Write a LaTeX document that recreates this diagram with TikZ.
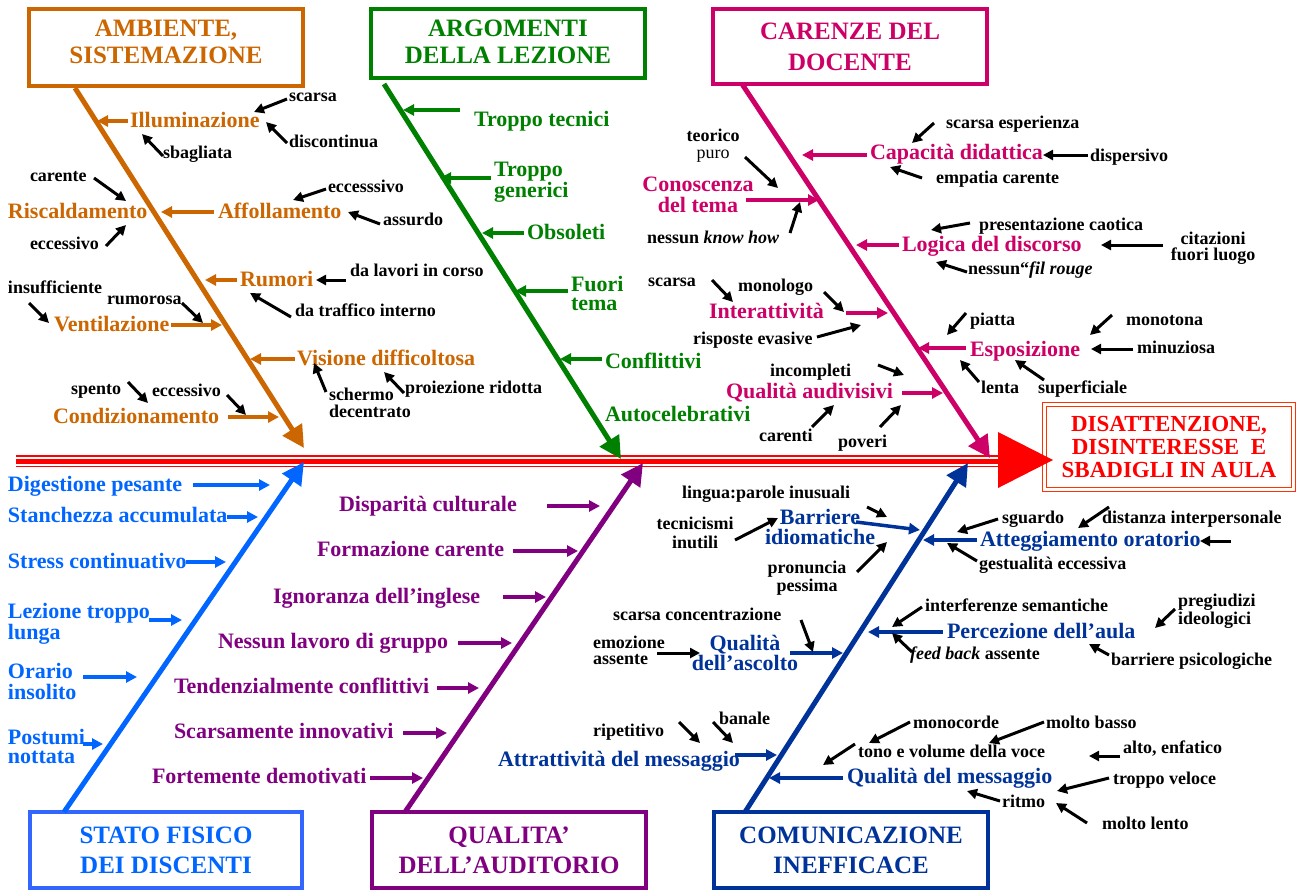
\documentclass[tikz,border=0pt]{standalone}
\usepackage{fontspec}
\setmainfont{Liberation Serif}
\usetikzlibrary{arrows.meta}

\definecolor{cOra}{RGB}{204,102,0}
\definecolor{cGrn}{RGB}{0,128,0}
\definecolor{cMag}{RGB}{204,0,102}
\definecolor{cBlu}{RGB}{0,102,255}
\definecolor{cBox}{RGB}{51,102,255}
\definecolor{cPur}{RGB}{128,0,128}
\definecolor{cNav}{RGB}{0,51,153}
\definecolor{cRed}{RGB}{255,0,0}
\definecolor{cRim}{RGB}{255,51,0}

\newcommand\fsz[2]{\fontsize{#1}{#2}\selectfont\bfseries}

\tikzset{
  every node/.style={inner sep=0pt, outer sep=0pt},
  lbl/.style={anchor=mid west, yshift=-4.5pt},
  cat/.style={font=\fsz{22}{20}},
  sml/.style={font=\fsz{18}{17}, text=black},
  ttl/.style={font=\fsz{25}{27}, align=center},
  catbox/.style={draw, line width=4pt, fill=white, minimum width=274pt},
  bone/.style={line width=5pt, -{Triangle[length=22pt,width=22pt]}},
  twig/.style={line width=3.5pt, -{Triangle[length=11pt,width=11pt]}},
  hint/.style={line width=3pt, black, -{Triangle[length=10pt,width=10pt]}},
}

\begin{document}
\begin{tikzpicture}[x=1pt,y=-1pt]
\useasboundingbox[fill=white] (0,0) rectangle (1297,892);

% ---------- category boxes ----------
\node[catbox, draw=cOra, minimum height=77pt] (amb) at (166,47.5) {};
\node[catbox, draw=cGrn, minimum height=69pt] (arg) at (508,43.5) {};
\node[catbox, draw=cMag, minimum height=75pt] (car) at (850,46.5) {};
\node[catbox, draw=cBox, minimum width=272pt, minimum height=76pt] (sta) at (166,850) {};
\node[catbox, draw=cPur, minimum height=76pt] (qua) at (509,850) {};
\node[catbox, draw=cNav, minimum height=76pt] (com) at (851,850) {};

\node[ttl, text=cOra] (ambT) at (166,42) {AMBIENTE,\\SISTEMAZIONE};
\node[ttl, text=cGrn] (argT) at (508,42) {ARGOMENTI\\DELLA LEZIONE};
\node[ttl, text=cMag, font=\fsz{25}{31}] (carT) at (850,47) {CARENZE DEL\\DOCENTE};
\node[ttl, text=cBlu, font=\fsz{25}{30}] (staT) at (166,850) {STATO FISICO\\DEI DISCENTI};
\node[ttl, text=cPur, font=\fsz{25}{30}] (quaT) at (509,850) {QUALITA’\\DELL’AUDITORIO};
\node[ttl, text=cNav, font=\fsz{25}{30}] (comT) at (851,850) {COMUNICAZIONE\\INEFFICACE};

% ---------- main spine: thin red, white, thick red, white, thin red ----------
\coordinate (spL) at (16,461);
\coordinate (spR) at (1000,461);
\draw[cRed, line width=12pt] (spL) -- (spR);
\draw[white, line width=9pt] (spL) -- (spR);
\draw[cRed, line width=5pt] (spL) -- (spR);

% ---------- effect ----------
\node[draw=cRim, line width=1.3pt, double=white, double distance=2.4pt, fill=white,
      minimum width=249pt, minimum height=85pt, text=cRed, font=\fsz{23}{23}, align=center]
      (eff) at (1169,447) {DISATTENZIONE,\\DISINTERESSE\ \ E\\SBADIGLI IN AULA};
\fill[cRed] (998,432) -- (1053,460) -- (998,488) -- cycle;

% ---------- main bones ----------
\coordinate (ambTip) at (304,448);
\coordinate (argTip) at (621,459);
\coordinate (carTip) at (990,458);
\coordinate (staTip) at (304,462);
\coordinate (quaTip) at (643,463);
\coordinate (comTip) at (968,463);
\draw[bone, cOra] ([xshift=46pt,yshift=-2pt]amb.south west) -- (ambTip);
\draw[bone, cGrn] ([xshift=13pt,yshift=-6pt]arg.south west) -- (argTip);
\draw[bone, cMag] ([xshift=29pt]car.south west) -- (carTip);
\draw[bone, cBlu] ([xshift=34pt]sta.north west) -- (staTip);
\draw[bone, cPur] ([xshift=33pt]qua.north west) -- (quaTip);
\draw[bone, cNav] ([xshift=31pt]com.north west) -- (comTip);

% ---------- AMBIENTE, SISTEMAZIONE ----------
\begin{scope}[every node/.append style={lbl}]
\node[cat, text=cOra] (ill) at (130,121) {Illuminazione};
\node[cat, text=cOra] (risc) at (8,212) {Riscaldamento};
\node[cat, text=cOra] (aff) at (218,212) {Affollamento};
\node[cat, text=cOra] (rum) at (240,280) {Rumori};
\node[cat, text=cOra] (vent) at (54,325) {Ventilazione};
\node[cat, text=cOra] (vis) at (297,359) {Visione difficoltosa};
\node[cat, text=cOra] (cond) at (53,417) {Condizionamento};

\node[sml] (a1) at (289,95) {scarsa};
\node[sml] (a2) at (289,141) {discontinua};
\node[sml] (a3) at (163,152) {sbagliata};
\node[sml] (a4) at (30,175) {carente};
\node[sml] (a5) at (30,243) {eccessivo};
\node[sml] (a6) at (328,186) {eccesssivo};
\node[sml] (a7) at (383,219) {assurdo};
\node[sml] (a8) at (350,270) {da lavori in corso};
\node[sml] (a9) at (295,310) {da traffico interno};
\node[sml] (a10) at (8,287) {insufficiente};
\node[sml] (a11) at (107,298) {rumorosa};
\node[sml, anchor=west, align=left] (a12) at (329,398) {schermo\\decentrato};
\node[sml] (a13) at (405,387) {proiezione ridotta};
\node[sml] (a14) at (71,388) {spento};
\node[sml] (a15) at (152,390) {eccessivo};
\end{scope}

\draw[twig, cOra] (128,121) -- (97,121);
\draw[twig, cOra] (214,212) -- (161,212);
\draw[twig, cOra] (237,280) -- (205,280);
\draw[twig, cOra] (171,325) -- (222,325);
\draw[twig, cOra] (295,359) -- (250,359);
\draw[twig, cOra] (228,417) -- (279,417);

\draw[hint] (287,99) -- (254,112);
\draw[hint] (287,143) -- (266,122);
\draw[hint] (163,156) -- (142,134);
\draw[hint] (94,178) -- (126,201);
\draw[hint] (106,246) -- (126,225);
\draw[hint] (326,189) -- (293,200);
\draw[hint] (380,224) -- (348,212);
\draw[hint] (346,280) -- (316,280);
\draw[hint] (291,317) -- (250,293);
\draw[hint] (29,303) -- (49,323);
\draw[hint] (182,303) -- (203,323);
\draw[hint] (326,392) -- (314,363);
\draw[hint] (404,393) -- (384,372);
\draw[hint] (128,382) -- (148,403);
\draw[hint] (227,395) -- (246,415);

% ---------- ARGOMENTI DELLA LEZIONE ----------
\begin{scope}[every node/.append style={lbl}]
\node[cat, text=cGrn] (g1) at (474,120) {Troppo tecnici};
\node[cat, text=cGrn, anchor=west, align=left, font=\fsz{22}{18}] (g2) at (494,177.5) {Troppo\\generici};
\node[cat, text=cGrn] (g3) at (527,233) {Obsoleti};
\node[cat, text=cGrn, anchor=west, align=left, font=\fsz{22}{19}] (g4) at (571,288.5) {Fuori\\tema};
\node[cat, text=cGrn] (g5) at (605,362) {Conflittivi};
\node[cat, text=cGrn] (g6) at (605,415) {Autocelebrativi};
\end{scope}
\draw[twig, cGrn] (460,110) -- (403,110);
\draw[twig, cGrn] (491,178) -- (440,178);
\draw[twig, cGrn] (524,233) -- (482,233);
\draw[twig, cGrn] (568,291) -- (515,291);
\draw[twig, cGrn] (602,359) -- (560,359);

% ---------- CARENZE DEL DOCENTE ----------
\begin{scope}[every node/.append style={lbl}]
\node[cat, text=cMag, anchor=center, align=center, font=\fsz{22}{21}] (m1) at (698,190.5) {Conoscenza\\del tema};
\node[cat, text=cMag] (m2) at (870,153) {Capacità didattica};
\node[cat, text=cMag] (m3) at (902,245) {Logica del discorso};
\node[cat, text=cMag] (m4) at (709,312) {Interattività};
\node[cat, text=cMag] (m5) at (726,392) {Qualità audivisivi};
\node[cat, text=cMag] (m6) at (970,350) {Esposizione};

\node[sml, anchor=center, align=center] (c1) at (713,141) {teorico\\{\mdseries puro}};
\node[sml] (c2) at (647,237) {nessun \textit{know how}};
\node[sml] (c3) at (946,122) {scarsa esperienza};
\node[sml] (c4) at (1090,155) {dispersivo};
\node[sml] (c5) at (936,177) {empatia carente};
\node[sml] (c6) at (979,224) {presentazione caotica};
\node[sml] (c7) at (968,268) {nessun“\textit{fil rouge}};
\node[sml, anchor=center, align=center, font=\fsz{18}{16}] (c8) at (1213,243.5) {citazioni\\fuori luogo};
\node[sml] (c9) at (648,280) {scarsa};
\node[sml] (c10) at (738,285) {monologo};
\node[sml] (c11) at (693,338) {risposte evasive};
\node[sml] (c12) at (770,370) {incompleti};
\node[sml] (c13) at (759,435) {carenti};
\node[sml] (c14) at (838,441) {poveri};
\node[sml] (c15) at (970,319) {piatta};
\node[sml] (c16) at (1126,319) {monotona};
\node[sml] (c17) at (1137,347) {minuziosa};
\node[sml] (c18) at (981,387) {lenta};
\node[sml] (c19) at (1038,387) {superficiale};
\end{scope}
\draw[twig, cMag] (746,200) -- (819,200);
\draw[twig, cMag] (867,155) -- (802,155);
\draw[twig, cMag] (899,245) -- (856,245);
\draw[twig, cMag] (846,313) -- (888,313);
\draw[twig, cMag] (902,393) -- (943,393);
\draw[twig, cMag] (966,348) -- (918,348);

\draw[hint] (745,157) -- (778,188);
\draw[hint] (790,233) -- (800,202);
\draw[hint] (934,123) -- (912,143);
\draw[hint] (1088,155) -- (1043,155);
\draw[hint] (922,178) -- (890,167);
\draw[hint] (970,223) -- (931,230);
\draw[hint] (967,272) -- (936,262);
\draw[hint] (1163,245) -- (1101,245);
\draw[hint] (712,280) -- (733,302);
\draw[hint] (824,292) -- (844,312);
\draw[hint] (817,337) -- (861,325);
\draw[hint] (878,365) -- (904,375);
\draw[hint] (812,427) -- (834,405);
\draw[hint] (880,427) -- (901,405);
\draw[hint] (966,313) -- (947,335);
\draw[hint] (1112,315) -- (1090,335);
\draw[hint] (1133,349) -- (1091,349);
\draw[hint] (979,382) -- (960,360);
\draw[hint] (1044,380) -- (1015,360);

% ---------- STATO FISICO DEI DISCENTI ----------
\begin{scope}[every node/.append style={lbl}]
\node[cat, text=cBlu] (b1) at (8,485) {Digestione pesante};
\node[cat, text=cBlu] (b2) at (8,516) {Stanchezza accumulata};
\node[cat, text=cBlu] (b3) at (8,562) {Stress continuativo};
\node[cat, text=cBlu, anchor=west, align=left, font=\fsz{22}{18}] (b4) at (8,619) {Lezione troppo\\lunga};
\node[cat, text=cBlu, anchor=west, align=left, font=\fsz{22}{21}] (b5) at (8,676.5) {Orario\\insolito};
\node[cat, text=cBlu, anchor=west, align=left, font=\fsz{22}{19}] (b6) at (8,741.5) {Postumi\\nottata};
\end{scope}
\draw[twig, cBlu] (193,485) -- (270,485);
\draw[twig, cBlu] (227,517) -- (258,517);
\draw[twig, cBlu] (186,562) -- (226,562);
\draw[twig, cBlu] (149,620) -- (182,620);
\draw[twig, cBlu] (83,677) -- (137,677);
\draw[twig, cBlu] (83,744) -- (103,744);

% ---------- QUALITA' DELL'AUDITORIO ----------
\begin{scope}[every node/.append style={lbl}]
\node[cat, text=cPur] (p1) at (339,505) {Disparità culturale};
\node[cat, text=cPur] (p2) at (317,550) {Formazione carente};
\node[cat, text=cPur] (p3) at (273,597) {Ignoranza dell’inglese};
\node[cat, text=cPur] (p4) at (218,642) {Nessun lavoro di gruppo};
\node[cat, text=cPur] (p5) at (174,687) {Tendenzialmente conflittivi};
\node[cat, text=cPur] (p6) at (174,732) {Scarsamente innovativi};
\node[cat, text=cPur] (p7) at (152,777) {Fortemente demotivati};
\end{scope}
\draw[twig, cPur] (547,506) -- (600,506);
\draw[twig, cPur] (513,551) -- (578,551);
\draw[twig, cPur] (503,597) -- (546,597);
\draw[twig, cPur] (458,643) -- (512,643);
\draw[twig, cPur] (437,688) -- (479,688);
\draw[twig, cPur] (403,733) -- (447,733);
\draw[twig, cPur] (370,778) -- (423,778);

% ---------- COMUNICAZIONE INEFFICACE ----------
\begin{scope}[every node/.append style={lbl}]
\node[cat, text=cNav, anchor=center, align=center] (n1) at (820,522.5) {Barriere\\idiomatiche};
\node[cat, text=cNav] (n2) at (980,540) {Atteggiamento oratorio};
\node[cat, text=cNav, anchor=center, align=center] (n3) at (745,648.5) {Qualità\\dell’ascolto};
\node[cat, text=cNav] (n4) at (947,632) {Percezione dell’aula};
\node[cat, text=cNav] (n5) at (498,760) {Attrattività del messaggio};
\node[cat, text=cNav] (n6) at (847,777) {Qualità del messaggio};

\node[sml] (k1) at (682,492) {lingua:parole inusuali};
\node[sml, anchor=center, align=center, font=\fsz{18}{19}] (k2) at (695,528.5) {tecnicismi\\inutili};
\node[sml, anchor=center, align=center, font=\fsz{18}{15}] (k3) at (807,573.5) {pronuncia\\pessima};
\node[sml] (k4) at (1002,517) {sguardo};
\node[sml] (k5) at (1102,517) {distanza interpersonale};
\node[sml] (k6) at (979,563) {gestualità eccessiva};
\node[sml] (k7) at (613,614) {scarsa concentrazione};
\node[sml, anchor=west, align=left, font=\fsz{18}{16}] (k8) at (593,645.5) {emozione\\assente};
\node[sml] (k9) at (925,605) {interferenze semantiche};
\node[sml] (k10) at (910,653) {\textit{feed back} assente};
\node[sml, anchor=west, align=left, font=\fsz{18}{14}] (k11) at (1178,606.5) {pregiudizi\\ideologici};
\node[sml] (k12) at (1111,659) {barriere psicologiche};
\node[sml] (k13) at (593,730) {ripetitivo};
\node[sml] (k14) at (719,718) {banale};
\node[sml] (k15) at (913,722) {monocorde};
\node[sml] (k16) at (858,751) {tono e volume della voce};
\node[sml] (k17) at (1046,722) {molto basso};
\node[sml] (k18) at (1123,747) {alto, enfatico};
\node[sml] (k19) at (1113,778) {troppo veloce};
\node[sml] (k20) at (1002,801) {ritmo};
\node[sml] (k21) at (1102,823) {molto lento};
\end{scope}
\draw[twig, cNav] (856,522) -- (920,530);
\draw[twig, cNav] (977,540) -- (923,540);
\draw[twig, cNav] (790,653) -- (843,653);
\draw[twig, cNav] (943,632) -- (868,632);
\draw[twig, cNav] (735,755) -- (777,755);
\draw[twig, cNav] (843,778) -- (769,778);

\draw[hint] (867,507) -- (887,517);
\draw[hint] (735,540) -- (778,518);
\draw[hint] (857,572) -- (887,542);
\draw[hint] (998,519) -- (957,532);
\draw[hint] (1109,507) -- (1078,528);
\draw[hint] (1231,541) -- (1200,541);
\draw[hint] (977,561) -- (947,543);
\draw[hint] (801,620) -- (813,652);
\draw[hint] (657,653) -- (700,653);
\draw[hint] (922,607) -- (892,627);
\draw[hint] (912,652) -- (892,633);
\draw[hint] (1175,609) -- (1155,628);
\draw[hint] (1109,655) -- (1089,644);
\draw[hint] (679,722) -- (700,743);
\draw[hint] (713,722) -- (733,743);
\draw[hint] (910,722) -- (869,743);
\draw[hint] (855,744) -- (823,765);
\draw[hint] (1044,722) -- (989,743);
\draw[hint] (1120,756) -- (1089,756);
\draw[hint] (1109,778) -- (1057,791);
\draw[hint] (1000,801) -- (967,791);
\draw[hint] (1087,823) -- (1056,803);
\end{tikzpicture}
\end{document}
